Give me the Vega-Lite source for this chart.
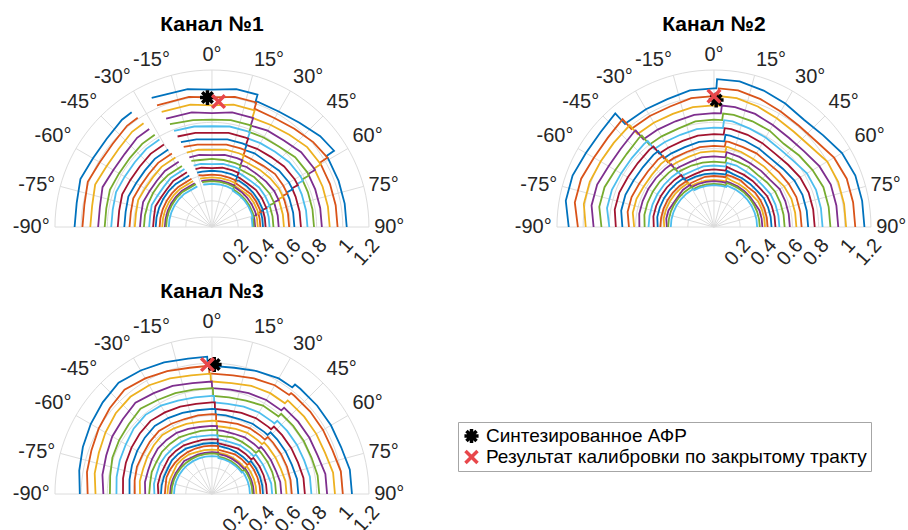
{"$schema":"https://vega.github.io/schema/vega-lite/v6.json","padding":0,"background":"white","bounds":"flush","columns":2,"spacing":{"row":4,"column":96},
"config":{"view":{"stroke":null},"font":"Liberation Sans"},
"datasets":{
"rings":[{"r":0.2},{"r":0.4},{"r":0.6},{"r":0.8},{"r":1.0},{"r":1.2}],
"spokes":[{"t":-90},{"t":-75},{"t":-60},{"t":-45},{"t":-30},{"t":-15},{"t":0},{"t":15},{"t":30},{"t":45},{"t":60},{"t":75},{"t":90}],
"alab":[{"t":-90,"l":"-90°"},{"t":-75,"l":"-75°"},{"t":-60,"l":"-60°"},{"t":-45,"l":"-45°"},{"t":-30,"l":"-30°"},{"t":-15,"l":"-15°"},{"t":0,"l":"0°"},{"t":15,"l":"15°"},{"t":30,"l":"30°"},{"t":45,"l":"45°"},{"t":60,"l":"60°"},{"t":75,"l":"75°"},{"t":90,"l":"90°"}],
"rlab":[{"r":0.2,"l":"0.2"},{"r":0.4,"l":"0.4"},{"r":0.6,"l":"0.6"},{"r":0.8,"l":"0.8"},{"r":1.0,"l":"1"},{"r":1.2,"l":"1.2"}],
"mk":[{"p":1,"m":"Синтезированное АФР","t":-2,"r":0.99},{"p":1,"m":"Результат калибровки по закрытому тракту","t":3,"r":0.96},{"p":2,"m":"Синтезированное АФР","t":1,"r":0.97},{"p":2,"m":"Результат калибровки по закрытому тракту","t":0,"r":1.0},{"p":3,"m":"Синтезированное АФР","t":1,"r":0.99},{"p":3,"m":"Результат калибровки по закрытому тракту","t":-2,"r":0.99}],
"p1a":[
{"k":0,"t":-90,"r":1.05},{"k":0,"t":-80,"r":1.05},{"k":0,"t":-70,"r":1.07},{"k":0,"t":-60,"r":1.05},{"k":0,"t":-50,"r":1.05},{"k":0,"t":-40,"r":1.07},{"k":0,"t":-35,"r":1.07},
{"k":1,"t":-90,"r":0.99},{"k":1,"t":-80,"r":0.99},{"k":1,"t":-70,"r":1.01},{"k":1,"t":-60,"r":0.99},{"k":1,"t":-50,"r":0.99},{"k":1,"t":-40,"r":1.01},{"k":1,"t":-34.2,"r":1.01},
{"k":2,"t":-90,"r":0.93},{"k":2,"t":-80,"r":0.93},{"k":2,"t":-70,"r":0.95},{"k":2,"t":-60,"r":0.93},{"k":2,"t":-50,"r":0.93},{"k":2,"t":-40,"r":0.95},{"k":2,"t":-33.4,"r":0.95},
{"k":3,"t":-90,"r":0.87},{"k":3,"t":-80,"r":0.87},{"k":3,"t":-70,"r":0.89},{"k":3,"t":-60,"r":0.87},{"k":3,"t":-50,"r":0.87},{"k":3,"t":-40,"r":0.89},{"k":3,"t":-32.6,"r":0.89},
{"k":4,"t":-90,"r":0.82},{"k":4,"t":-80,"r":0.82},{"k":4,"t":-70,"r":0.83},{"k":4,"t":-60,"r":0.82},{"k":4,"t":-50,"r":0.82},{"k":4,"t":-40,"r":0.83},{"k":4,"t":-31.8,"r":0.83},
{"k":5,"t":-90,"r":0.77},{"k":5,"t":-80,"r":0.77},{"k":5,"t":-70,"r":0.78},{"k":5,"t":-60,"r":0.77},{"k":5,"t":-50,"r":0.77},{"k":5,"t":-40,"r":0.78},{"k":5,"t":-31,"r":0.78},
{"k":6,"t":-90,"r":0.72},{"k":6,"t":-80,"r":0.72},{"k":6,"t":-70,"r":0.73},{"k":6,"t":-60,"r":0.72},{"k":6,"t":-50,"r":0.72},{"k":6,"t":-40,"r":0.73},{"k":6,"t":-30.2,"r":0.73},
{"k":7,"t":-90,"r":0.67},{"k":7,"t":-80,"r":0.67},{"k":7,"t":-70,"r":0.68},{"k":7,"t":-60,"r":0.67},{"k":7,"t":-50,"r":0.67},{"k":7,"t":-40,"r":0.68},{"k":7,"t":-29.4,"r":0.68},
{"k":8,"t":-90,"r":0.63},{"k":8,"t":-80,"r":0.63},{"k":8,"t":-70,"r":0.64},{"k":8,"t":-60,"r":0.63},{"k":8,"t":-50,"r":0.63},{"k":8,"t":-40,"r":0.64},{"k":8,"t":-28.6,"r":0.64},
{"k":9,"t":-90,"r":0.59},{"k":9,"t":-80,"r":0.59},{"k":9,"t":-70,"r":0.60},{"k":9,"t":-60,"r":0.59},{"k":9,"t":-50,"r":0.59},{"k":9,"t":-40,"r":0.60},{"k":9,"t":-27.8,"r":0.60},
{"k":10,"t":-90,"r":0.55},{"k":10,"t":-80,"r":0.55},{"k":10,"t":-70,"r":0.56},{"k":10,"t":-60,"r":0.55},{"k":10,"t":-50,"r":0.55},{"k":10,"t":-40,"r":0.56},{"k":10,"t":-27,"r":0.56},
{"k":11,"t":-90,"r":0.52},{"k":11,"t":-80,"r":0.52},{"k":11,"t":-70,"r":0.52},{"k":11,"t":-60,"r":0.52},{"k":11,"t":-50,"r":0.52},{"k":11,"t":-40,"r":0.52},{"k":11,"t":-26.2,"r":0.52},
{"k":12,"t":-90,"r":0.48},{"k":12,"t":-80,"r":0.48},{"k":12,"t":-70,"r":0.49},{"k":12,"t":-60,"r":0.48},{"k":12,"t":-50,"r":0.48},{"k":12,"t":-40,"r":0.49},{"k":12,"t":-25.4,"r":0.49},
{"k":13,"t":-90,"r":0.45},{"k":13,"t":-80,"r":0.45},{"k":13,"t":-70,"r":0.46},{"k":13,"t":-60,"r":0.45},{"k":13,"t":-50,"r":0.45},{"k":13,"t":-40,"r":0.46},{"k":13,"t":-24.6,"r":0.46},
{"k":14,"t":-90,"r":0.43},{"k":14,"t":-80,"r":0.43},{"k":14,"t":-70,"r":0.43},{"k":14,"t":-60,"r":0.43},{"k":14,"t":-50,"r":0.43},{"k":14,"t":-40,"r":0.43},{"k":14,"t":-23.8,"r":0.43},
{"k":15,"t":-90,"r":0.40},{"k":15,"t":-80,"r":0.40},{"k":15,"t":-70,"r":0.40},{"k":15,"t":-60,"r":0.40},{"k":15,"t":-50,"r":0.40},{"k":15,"t":-40,"r":0.40},{"k":15,"t":-23,"r":0.40},
{"k":16,"t":-90,"r":0.38},{"k":16,"t":-80,"r":0.38},{"k":16,"t":-70,"r":0.38},{"k":16,"t":-60,"r":0.38},{"k":16,"t":-50,"r":0.38},{"k":16,"t":-40,"r":0.38},{"k":16,"t":-22.2,"r":0.38},
{"k":17,"t":-90,"r":0.36},{"k":17,"t":-80,"r":0.36},{"k":17,"t":-70,"r":0.36},{"k":17,"t":-60,"r":0.36},{"k":17,"t":-50,"r":0.36},{"k":17,"t":-40,"r":0.36},{"k":17,"t":-21.4,"r":0.36},
{"k":18,"t":-90,"r":0.35},{"k":18,"t":-80,"r":0.35},{"k":18,"t":-70,"r":0.35},{"k":18,"t":-60,"r":0.35},{"k":18,"t":-50,"r":0.35},{"k":18,"t":-40,"r":0.35},{"k":18,"t":-20.6,"r":0.35},
{"k":19,"t":-90,"r":0.33},{"k":19,"t":-80,"r":0.33},{"k":19,"t":-70,"r":0.33},{"k":19,"t":-60,"r":0.33},{"k":19,"t":-50,"r":0.33},{"k":19,"t":-40,"r":0.33},{"k":19,"t":-19.8,"r":0.33}],
"p1b":[
{"k":0,"t":-25,"r":1.09},{"k":0,"t":-10,"r":1.07},{"k":0,"t":0,"r":1.05},{"k":0,"t":10,"r":1.07},{"k":0,"t":19,"r":1.07},{"k":0,"t":19.2,"r":1.01},{"k":0,"t":20,"r":1.02},{"k":0,"t":30,"r":1.02},{"k":0,"t":40,"r":1.04},{"k":0,"t":50,"r":1.08},{"k":0,"t":58,"r":1.10},{"k":0,"t":58.2,"r":1.03},{"k":0,"t":60,"r":1.03},{"k":0,"t":70,"r":1.03},{"k":0,"t":80,"r":1.03},{"k":0,"t":90,"r":1.03},
{"k":1,"t":-24.3,"r":1.02},{"k":1,"t":-10,"r":1.01},{"k":1,"t":0,"r":0.99},{"k":1,"t":10,"r":1.01},{"k":1,"t":19.6,"r":1.01},{"k":1,"t":19.8,"r":0.95},{"k":1,"t":20,"r":0.96},{"k":1,"t":30,"r":0.96},{"k":1,"t":40,"r":0.98},{"k":1,"t":50,"r":1.01},{"k":1,"t":59,"r":1.03},{"k":1,"t":59.2,"r":0.96},{"k":1,"t":60,"r":0.96},{"k":1,"t":70,"r":0.96},{"k":1,"t":80,"r":0.96},{"k":1,"t":90,"r":0.96},
{"k":2,"t":-23.6,"r":0.96},{"k":2,"t":-10,"r":0.95},{"k":2,"t":0,"r":0.93},{"k":2,"t":10,"r":0.95},{"k":2,"t":20.1,"r":0.95},{"k":2,"t":20.3,"r":0.89},{"k":2,"t":30,"r":0.90},{"k":2,"t":40,"r":0.92},{"k":2,"t":50,"r":0.95},{"k":2,"t":60,"r":0.96},{"k":2,"t":60.2,"r":0.90},{"k":2,"t":70,"r":0.90},{"k":2,"t":80,"r":0.90},{"k":2,"t":90,"r":0.90},
{"k":3,"t":-22.9,"r":0.90},{"k":3,"t":-10,"r":0.89},{"k":3,"t":0,"r":0.87},{"k":3,"t":10,"r":0.89},{"k":3,"t":20,"r":0.89},{"k":3,"t":20.7,"r":0.89},{"k":3,"t":20.9,"r":0.83},{"k":3,"t":30,"r":0.85},{"k":3,"t":40,"r":0.86},{"k":3,"t":50,"r":0.89},{"k":3,"t":60,"r":0.90},{"k":3,"t":61,"r":0.90},{"k":3,"t":61.2,"r":0.84},{"k":3,"t":70,"r":0.84},{"k":3,"t":80,"r":0.84},{"k":3,"t":90,"r":0.84},
{"k":4,"t":-22.2,"r":0.85},{"k":4,"t":-10,"r":0.83},{"k":4,"t":0,"r":0.82},{"k":4,"t":10,"r":0.83},{"k":4,"t":20,"r":0.83},{"k":4,"t":21.2,"r":0.83},{"k":4,"t":21.4,"r":0.78},{"k":4,"t":30,"r":0.79},{"k":4,"t":40,"r":0.80},{"k":4,"t":50,"r":0.83},{"k":4,"t":60,"r":0.84},{"k":4,"t":62,"r":0.84},{"k":4,"t":62.2,"r":0.78},{"k":4,"t":70,"r":0.78},{"k":4,"t":80,"r":0.78},{"k":4,"t":90,"r":0.78},
{"k":5,"t":-21.5,"r":0.79},{"k":5,"t":-10,"r":0.78},{"k":5,"t":0,"r":0.77},{"k":5,"t":10,"r":0.78},{"k":5,"t":20,"r":0.78},{"k":5,"t":21.8,"r":0.78},{"k":5,"t":22,"r":0.73},{"k":5,"t":30,"r":0.74},{"k":5,"t":40,"r":0.75},{"k":5,"t":50,"r":0.77},{"k":5,"t":60,"r":0.78},{"k":5,"t":63,"r":0.78},{"k":5,"t":63.2,"r":0.73},{"k":5,"t":70,"r":0.73},{"k":5,"t":80,"r":0.73},{"k":5,"t":90,"r":0.73},
{"k":6,"t":-20.8,"r":0.74},{"k":6,"t":-10,"r":0.73},{"k":6,"t":0,"r":0.72},{"k":6,"t":10,"r":0.73},{"k":6,"t":20,"r":0.73},{"k":6,"t":22.3,"r":0.73},{"k":6,"t":22.5,"r":0.68},{"k":6,"t":30,"r":0.69},{"k":6,"t":40,"r":0.70},{"k":6,"t":50,"r":0.72},{"k":6,"t":60,"r":0.73},{"k":6,"t":64,"r":0.73},{"k":6,"t":64.2,"r":0.68},{"k":6,"t":70,"r":0.68},{"k":6,"t":80,"r":0.68},{"k":6,"t":90,"r":0.68},
{"k":7,"t":-20.1,"r":0.69},{"k":7,"t":-10,"r":0.68},{"k":7,"t":0,"r":0.67},{"k":7,"t":10,"r":0.68},{"k":7,"t":20,"r":0.68},{"k":7,"t":22.9,"r":0.68},{"k":7,"t":23.1,"r":0.64},{"k":7,"t":30,"r":0.65},{"k":7,"t":40,"r":0.65},{"k":7,"t":50,"r":0.67},{"k":7,"t":60,"r":0.68},{"k":7,"t":65,"r":0.68},{"k":7,"t":65.2,"r":0.63},{"k":7,"t":70,"r":0.63},{"k":7,"t":80,"r":0.63},{"k":7,"t":90,"r":0.63},
{"k":8,"t":-19.4,"r":0.65},{"k":8,"t":-10,"r":0.64},{"k":8,"t":0,"r":0.63},{"k":8,"t":10,"r":0.64},{"k":8,"t":20,"r":0.64},{"k":8,"t":23.4,"r":0.64},{"k":8,"t":23.6,"r":0.60},{"k":8,"t":30,"r":0.60},{"k":8,"t":40,"r":0.61},{"k":8,"t":50,"r":0.63},{"k":8,"t":60,"r":0.63},{"k":8,"t":66,"r":0.63},{"k":8,"t":66.2,"r":0.59},{"k":8,"t":70,"r":0.59},{"k":8,"t":80,"r":0.59},{"k":8,"t":90,"r":0.59},
{"k":9,"t":-18.7,"r":0.60},{"k":9,"t":-10,"r":0.60},{"k":9,"t":0,"r":0.59},{"k":9,"t":10,"r":0.60},{"k":9,"t":20,"r":0.60},{"k":9,"t":24,"r":0.60},{"k":9,"t":24.2,"r":0.56},{"k":9,"t":30,"r":0.56},{"k":9,"t":40,"r":0.57},{"k":9,"t":50,"r":0.58},{"k":9,"t":60,"r":0.59},{"k":9,"t":67,"r":0.59},{"k":9,"t":67.2,"r":0.55},{"k":9,"t":70,"r":0.55},{"k":9,"t":80,"r":0.55},{"k":9,"t":90,"r":0.55},
{"k":10,"t":-18,"r":0.56},{"k":10,"t":-10,"r":0.56},{"k":10,"t":0,"r":0.55},{"k":10,"t":10,"r":0.56},{"k":10,"t":20,"r":0.56},{"k":10,"t":24.5,"r":0.56},{"k":10,"t":24.7,"r":0.52},{"k":10,"t":30,"r":0.53},{"k":10,"t":40,"r":0.53},{"k":10,"t":50,"r":0.54},{"k":10,"t":60,"r":0.55},{"k":10,"t":68,"r":0.55},{"k":10,"t":68.2,"r":0.51},{"k":10,"t":70,"r":0.51},{"k":10,"t":80,"r":0.51},{"k":10,"t":90,"r":0.51},
{"k":11,"t":-17.3,"r":0.53},{"k":11,"t":-10,"r":0.52},{"k":11,"t":0,"r":0.52},{"k":11,"t":10,"r":0.52},{"k":11,"t":20,"r":0.52},{"k":11,"t":25.1,"r":0.52},{"k":11,"t":25.3,"r":0.49},{"k":11,"t":30,"r":0.49},{"k":11,"t":40,"r":0.50},{"k":11,"t":50,"r":0.50},{"k":11,"t":60,"r":0.51},{"k":11,"t":69,"r":0.51},{"k":11,"t":69.2,"r":0.47},{"k":11,"t":70,"r":0.47},{"k":11,"t":80,"r":0.47},{"k":11,"t":90,"r":0.47},
{"k":12,"t":-16.6,"r":0.49},{"k":12,"t":-10,"r":0.49},{"k":12,"t":0,"r":0.48},{"k":12,"t":10,"r":0.49},{"k":12,"t":20,"r":0.49},{"k":12,"t":25.6,"r":0.49},{"k":12,"t":25.8,"r":0.46},{"k":12,"t":30,"r":0.46},{"k":12,"t":40,"r":0.46},{"k":12,"t":50,"r":0.47},{"k":12,"t":60,"r":0.47},{"k":12,"t":70,"r":0.47},{"k":12,"t":70.2,"r":0.44},{"k":12,"t":80,"r":0.44},{"k":12,"t":90,"r":0.44},
{"k":13,"t":-15.9,"r":0.46},{"k":13,"t":-10,"r":0.46},{"k":13,"t":0,"r":0.45},{"k":13,"t":10,"r":0.46},{"k":13,"t":20,"r":0.46},{"k":13,"t":26.2,"r":0.46},{"k":13,"t":26.4,"r":0.43},{"k":13,"t":30,"r":0.43},{"k":13,"t":40,"r":0.43},{"k":13,"t":50,"r":0.44},{"k":13,"t":60,"r":0.44},{"k":13,"t":70,"r":0.44},{"k":13,"t":71,"r":0.44},{"k":13,"t":71.2,"r":0.41},{"k":13,"t":80,"r":0.41},{"k":13,"t":90,"r":0.41},
{"k":14,"t":-15.2,"r":0.43},{"k":14,"t":-10,"r":0.43},{"k":14,"t":0,"r":0.43},{"k":14,"t":10,"r":0.43},{"k":14,"t":20,"r":0.43},{"k":14,"t":26.7,"r":0.43},{"k":14,"t":26.9,"r":0.40},{"k":14,"t":30,"r":0.41},{"k":14,"t":40,"r":0.41},{"k":14,"t":50,"r":0.41},{"k":14,"t":60,"r":0.41},{"k":14,"t":70,"r":0.41},{"k":14,"t":72,"r":0.41},{"k":14,"t":72.2,"r":0.39},{"k":14,"t":80,"r":0.39},{"k":14,"t":90,"r":0.39},
{"k":15,"t":-14.5,"r":0.41},{"k":15,"t":-10,"r":0.40},{"k":15,"t":0,"r":0.40},{"k":15,"t":10,"r":0.40},{"k":15,"t":20,"r":0.40},{"k":15,"t":27.3,"r":0.40},{"k":15,"t":27.5,"r":0.38},{"k":15,"t":30,"r":0.38},{"k":15,"t":40,"r":0.38},{"k":15,"t":50,"r":0.39},{"k":15,"t":60,"r":0.39},{"k":15,"t":70,"r":0.39},{"k":15,"t":73,"r":0.39},{"k":15,"t":73.2,"r":0.37},{"k":15,"t":80,"r":0.37},{"k":15,"t":90,"r":0.37},
{"k":16,"t":-13.8,"r":0.38},{"k":16,"t":-10,"r":0.38},{"k":16,"t":0,"r":0.38},{"k":16,"t":10,"r":0.38},{"k":16,"t":20,"r":0.38},{"k":16,"t":27.8,"r":0.38},{"k":16,"t":28,"r":0.36},{"k":16,"t":30,"r":0.36},{"k":16,"t":40,"r":0.36},{"k":16,"t":50,"r":0.37},{"k":16,"t":60,"r":0.37},{"k":16,"t":70,"r":0.37},{"k":16,"t":74,"r":0.37},{"k":16,"t":74.2,"r":0.35},{"k":16,"t":80,"r":0.35},{"k":16,"t":90,"r":0.35},
{"k":17,"t":-13.1,"r":0.36},{"k":17,"t":-10,"r":0.36},{"k":17,"t":0,"r":0.36},{"k":17,"t":10,"r":0.36},{"k":17,"t":20,"r":0.36},{"k":17,"t":28.4,"r":0.36},{"k":17,"t":28.6,"r":0.35},{"k":17,"t":30,"r":0.35},{"k":17,"t":40,"r":0.35},{"k":17,"t":50,"r":0.35},{"k":17,"t":60,"r":0.35},{"k":17,"t":70,"r":0.35},{"k":17,"t":75,"r":0.35},{"k":17,"t":75.2,"r":0.33},{"k":17,"t":80,"r":0.33},{"k":17,"t":90,"r":0.33},
{"k":18,"t":-12.4,"r":0.35},{"k":18,"t":-10,"r":0.35},{"k":18,"t":0,"r":0.35},{"k":18,"t":10,"r":0.35},{"k":18,"t":20,"r":0.35},{"k":18,"t":28.9,"r":0.35},{"k":18,"t":29.1,"r":0.33},{"k":18,"t":30,"r":0.33},{"k":18,"t":40,"r":0.33},{"k":18,"t":50,"r":0.33},{"k":18,"t":60,"r":0.33},{"k":18,"t":70,"r":0.33},{"k":18,"t":76,"r":0.33},{"k":18,"t":76.2,"r":0.32},{"k":18,"t":80,"r":0.32},{"k":18,"t":90,"r":0.32},
{"k":19,"t":-11.7,"r":0.33},{"k":19,"t":-10,"r":0.33},{"k":19,"t":0,"r":0.33},{"k":19,"t":10,"r":0.33},{"k":19,"t":20,"r":0.33},{"k":19,"t":29.5,"r":0.33},{"k":19,"t":29.7,"r":0.32},{"k":19,"t":30,"r":0.32},{"k":19,"t":40,"r":0.32},{"k":19,"t":50,"r":0.32},{"k":19,"t":60,"r":0.32},{"k":19,"t":70,"r":0.32},{"k":19,"t":77,"r":0.32},{"k":19,"t":77.2,"r":0.31},{"k":19,"t":80,"r":0.31},{"k":19,"t":90,"r":0.31}],
"p2":[
{"k":0,"t":-90,"r":1.11},{"k":0,"t":-80,"r":1.15},{"k":0,"t":-70,"r":1.15},{"k":0,"t":-60,"r":1.13},{"k":0,"t":-50,"r":1.13},{"k":0,"t":-41,"r":1.15},{"k":0,"t":-40.8,"r":1.04},{"k":0,"t":-40,"r":1.04},{"k":0,"t":-30,"r":1.04},{"k":0,"t":-20,"r":1.04},{"k":0,"t":-10,"r":1.06},{"k":0,"t":0,"r":1.06},{"k":0,"t":1,"r":1.06},{"k":0,"t":1.2,"r":1.13},{"k":0,"t":10,"r":1.13},{"k":0,"t":20,"r":1.11},{"k":0,"t":30,"r":1.09},{"k":0,"t":40,"r":1.07},{"k":0,"t":50,"r":1.09},{"k":0,"t":60,"r":1.13},{"k":0,"t":70,"r":1.15},{"k":0,"t":80,"r":1.15},{"k":0,"t":90,"r":1.15},
{"k":1,"t":-90,"r":1.04},{"k":1,"t":-80,"r":1.08},{"k":1,"t":-70,"r":1.08},{"k":1,"t":-60,"r":1.06},{"k":1,"t":-50,"r":1.06},{"k":1,"t":-40.3,"r":1.08},{"k":1,"t":-40.1,"r":0.98},{"k":1,"t":-40,"r":0.98},{"k":1,"t":-30,"r":0.98},{"k":1,"t":-20,"r":0.98},{"k":1,"t":-10,"r":1.0},{"k":1,"t":0,"r":1.0},{"k":1,"t":1.8,"r":1.0},{"k":1,"t":2,"r":1.06},{"k":1,"t":10,"r":1.06},{"k":1,"t":20,"r":1.04},{"k":1,"t":30,"r":1.02},{"k":1,"t":40,"r":1.01},{"k":1,"t":50,"r":1.02},{"k":1,"t":60,"r":1.06},{"k":1,"t":70,"r":1.08},{"k":1,"t":80,"r":1.08},{"k":1,"t":90,"r":1.08},
{"k":2,"t":-90,"r":0.98},{"k":2,"t":-80,"r":1.01},{"k":2,"t":-70,"r":1.01},{"k":2,"t":-60,"r":1.0},{"k":2,"t":-50,"r":1.0},{"k":2,"t":-40,"r":1.01},{"k":2,"t":-39.6,"r":1.01},{"k":2,"t":-39.4,"r":0.92},{"k":2,"t":-30,"r":0.92},{"k":2,"t":-20,"r":0.92},{"k":2,"t":-10,"r":0.93},{"k":2,"t":0,"r":0.93},{"k":2,"t":2.7,"r":0.93},{"k":2,"t":2.9,"r":1.0},{"k":2,"t":10,"r":1.0},{"k":2,"t":20,"r":0.98},{"k":2,"t":30,"r":0.96},{"k":2,"t":40,"r":0.95},{"k":2,"t":50,"r":0.96},{"k":2,"t":60,"r":1.0},{"k":2,"t":70,"r":1.01},{"k":2,"t":80,"r":1.01},{"k":2,"t":90,"r":1.01},
{"k":3,"t":-90,"r":0.92},{"k":3,"t":-80,"r":0.95},{"k":3,"t":-70,"r":0.95},{"k":3,"t":-60,"r":0.93},{"k":3,"t":-50,"r":0.93},{"k":3,"t":-40,"r":0.95},{"k":3,"t":-39,"r":0.95},{"k":3,"t":-38.8,"r":0.86},{"k":3,"t":-30,"r":0.86},{"k":3,"t":-20,"r":0.86},{"k":3,"t":-10,"r":0.87},{"k":3,"t":0,"r":0.87},{"k":3,"t":3.5,"r":0.87},{"k":3,"t":3.7,"r":0.93},{"k":3,"t":10,"r":0.93},{"k":3,"t":20,"r":0.92},{"k":3,"t":30,"r":0.90},{"k":3,"t":40,"r":0.89},{"k":3,"t":50,"r":0.90},{"k":3,"t":60,"r":0.93},{"k":3,"t":70,"r":0.95},{"k":3,"t":80,"r":0.95},{"k":3,"t":90,"r":0.95},
{"k":4,"t":-90,"r":0.86},{"k":4,"t":-80,"r":0.89},{"k":4,"t":-70,"r":0.89},{"k":4,"t":-60,"r":0.87},{"k":4,"t":-50,"r":0.87},{"k":4,"t":-40,"r":0.89},{"k":4,"t":-38.3,"r":0.89},{"k":4,"t":-38.1,"r":0.80},{"k":4,"t":-30,"r":0.80},{"k":4,"t":-20,"r":0.80},{"k":4,"t":-10,"r":0.82},{"k":4,"t":0,"r":0.82},{"k":4,"t":4.4,"r":0.82},{"k":4,"t":4.6,"r":0.87},{"k":4,"t":10,"r":0.87},{"k":4,"t":20,"r":0.86},{"k":4,"t":30,"r":0.85},{"k":4,"t":40,"r":0.83},{"k":4,"t":50,"r":0.85},{"k":4,"t":60,"r":0.87},{"k":4,"t":70,"r":0.89},{"k":4,"t":80,"r":0.89},{"k":4,"t":90,"r":0.89},
{"k":5,"t":-90,"r":0.80},{"k":5,"t":-80,"r":0.83},{"k":5,"t":-70,"r":0.83},{"k":5,"t":-60,"r":0.82},{"k":5,"t":-50,"r":0.82},{"k":5,"t":-40,"r":0.83},{"k":5,"t":-37.6,"r":0.83},{"k":5,"t":-37.4,"r":0.75},{"k":5,"t":-30,"r":0.75},{"k":5,"t":-20,"r":0.75},{"k":5,"t":-10,"r":0.76},{"k":5,"t":0,"r":0.76},{"k":5,"t":5.2,"r":0.76},{"k":5,"t":5.4,"r":0.82},{"k":5,"t":10,"r":0.82},{"k":5,"t":20,"r":0.80},{"k":5,"t":30,"r":0.79},{"k":5,"t":40,"r":0.78},{"k":5,"t":50,"r":0.79},{"k":5,"t":60,"r":0.82},{"k":5,"t":70,"r":0.83},{"k":5,"t":80,"r":0.83},{"k":5,"t":90,"r":0.83},
{"k":6,"t":-90,"r":0.75},{"k":6,"t":-80,"r":0.77},{"k":6,"t":-70,"r":0.77},{"k":6,"t":-60,"r":0.76},{"k":6,"t":-50,"r":0.76},{"k":6,"t":-40,"r":0.77},{"k":6,"t":-36.9,"r":0.77},{"k":6,"t":-36.7,"r":0.70},{"k":6,"t":-30,"r":0.70},{"k":6,"t":-20,"r":0.70},{"k":6,"t":-10,"r":0.71},{"k":6,"t":0,"r":0.71},{"k":6,"t":6,"r":0.71},{"k":6,"t":6.2,"r":0.76},{"k":6,"t":10,"r":0.76},{"k":6,"t":20,"r":0.75},{"k":6,"t":30,"r":0.74},{"k":6,"t":40,"r":0.73},{"k":6,"t":50,"r":0.74},{"k":6,"t":60,"r":0.76},{"k":6,"t":70,"r":0.77},{"k":6,"t":80,"r":0.77},{"k":6,"t":90,"r":0.77},
{"k":7,"t":-90,"r":0.70},{"k":7,"t":-80,"r":0.72},{"k":7,"t":-70,"r":0.72},{"k":7,"t":-60,"r":0.71},{"k":7,"t":-50,"r":0.71},{"k":7,"t":-40,"r":0.72},{"k":7,"t":-36.2,"r":0.72},{"k":7,"t":-36,"r":0.65},{"k":7,"t":-30,"r":0.65},{"k":7,"t":-20,"r":0.65},{"k":7,"t":-10,"r":0.66},{"k":7,"t":0,"r":0.66},{"k":7,"t":6.9,"r":0.66},{"k":7,"t":7.1,"r":0.71},{"k":7,"t":10,"r":0.71},{"k":7,"t":20,"r":0.70},{"k":7,"t":30,"r":0.69},{"k":7,"t":40,"r":0.68},{"k":7,"t":50,"r":0.69},{"k":7,"t":60,"r":0.71},{"k":7,"t":70,"r":0.72},{"k":7,"t":80,"r":0.72},{"k":7,"t":90,"r":0.72},
{"k":8,"t":-90,"r":0.65},{"k":8,"t":-80,"r":0.67},{"k":8,"t":-70,"r":0.67},{"k":8,"t":-60,"r":0.66},{"k":8,"t":-50,"r":0.66},{"k":8,"t":-40,"r":0.67},{"k":8,"t":-35.6,"r":0.67},{"k":8,"t":-35.4,"r":0.61},{"k":8,"t":-30,"r":0.61},{"k":8,"t":-20,"r":0.61},{"k":8,"t":-10,"r":0.62},{"k":8,"t":0,"r":0.62},{"k":8,"t":7.7,"r":0.62},{"k":8,"t":7.9,"r":0.66},{"k":8,"t":10,"r":0.66},{"k":8,"t":20,"r":0.65},{"k":8,"t":30,"r":0.65},{"k":8,"t":40,"r":0.64},{"k":8,"t":50,"r":0.65},{"k":8,"t":60,"r":0.66},{"k":8,"t":70,"r":0.67},{"k":8,"t":80,"r":0.67},{"k":8,"t":90,"r":0.67},
{"k":9,"t":-90,"r":0.61},{"k":9,"t":-80,"r":0.63},{"k":9,"t":-70,"r":0.63},{"k":9,"t":-60,"r":0.62},{"k":9,"t":-50,"r":0.62},{"k":9,"t":-40,"r":0.63},{"k":9,"t":-34.9,"r":0.63},{"k":9,"t":-34.7,"r":0.57},{"k":9,"t":-30,"r":0.57},{"k":9,"t":-20,"r":0.57},{"k":9,"t":-10,"r":0.58},{"k":9,"t":0,"r":0.58},{"k":9,"t":8.6,"r":0.58},{"k":9,"t":8.8,"r":0.62},{"k":9,"t":10,"r":0.62},{"k":9,"t":20,"r":0.61},{"k":9,"t":30,"r":0.60},{"k":9,"t":40,"r":0.60},{"k":9,"t":50,"r":0.60},{"k":9,"t":60,"r":0.62},{"k":9,"t":70,"r":0.63},{"k":9,"t":80,"r":0.63},{"k":9,"t":90,"r":0.63},
{"k":10,"t":-90,"r":0.57},{"k":10,"t":-80,"r":0.58},{"k":10,"t":-70,"r":0.58},{"k":10,"t":-60,"r":0.58},{"k":10,"t":-50,"r":0.58},{"k":10,"t":-40,"r":0.58},{"k":10,"t":-34.2,"r":0.58},{"k":10,"t":-34,"r":0.53},{"k":10,"t":-30,"r":0.53},{"k":10,"t":-20,"r":0.53},{"k":10,"t":-10,"r":0.54},{"k":10,"t":0,"r":0.54},{"k":10,"t":9.4,"r":0.54},{"k":10,"t":9.6,"r":0.58},{"k":10,"t":10,"r":0.58},{"k":10,"t":20,"r":0.57},{"k":10,"t":30,"r":0.56},{"k":10,"t":40,"r":0.56},{"k":10,"t":50,"r":0.56},{"k":10,"t":60,"r":0.58},{"k":10,"t":70,"r":0.58},{"k":10,"t":80,"r":0.58},{"k":10,"t":90,"r":0.58},
{"k":11,"t":-90,"r":0.53},{"k":11,"t":-80,"r":0.54},{"k":11,"t":-70,"r":0.54},{"k":11,"t":-60,"r":0.54},{"k":11,"t":-50,"r":0.54},{"k":11,"t":-40,"r":0.54},{"k":11,"t":-33.5,"r":0.54},{"k":11,"t":-33.3,"r":0.50},{"k":11,"t":-30,"r":0.50},{"k":11,"t":-20,"r":0.50},{"k":11,"t":-10,"r":0.50},{"k":11,"t":0,"r":0.50},{"k":11,"t":10,"r":0.50},{"k":11,"t":10.2,"r":0.50},{"k":11,"t":10.4,"r":0.54},{"k":11,"t":20,"r":0.53},{"k":11,"t":30,"r":0.53},{"k":11,"t":40,"r":0.52},{"k":11,"t":50,"r":0.53},{"k":11,"t":60,"r":0.54},{"k":11,"t":70,"r":0.54},{"k":11,"t":80,"r":0.54},{"k":11,"t":90,"r":0.54},
{"k":12,"t":-90,"r":0.50},{"k":12,"t":-80,"r":0.50},{"k":12,"t":-70,"r":0.50},{"k":12,"t":-60,"r":0.50},{"k":12,"t":-50,"r":0.50},{"k":12,"t":-40,"r":0.50},{"k":12,"t":-32.8,"r":0.50},{"k":12,"t":-32.6,"r":0.46},{"k":12,"t":-30,"r":0.46},{"k":12,"t":-20,"r":0.46},{"k":12,"t":-10,"r":0.47},{"k":12,"t":0,"r":0.47},{"k":12,"t":10,"r":0.47},{"k":12,"t":11.1,"r":0.47},{"k":12,"t":11.3,"r":0.50},{"k":12,"t":20,"r":0.50},{"k":12,"t":30,"r":0.49},{"k":12,"t":40,"r":0.49},{"k":12,"t":50,"r":0.49},{"k":12,"t":60,"r":0.50},{"k":12,"t":70,"r":0.50},{"k":12,"t":80,"r":0.50},{"k":12,"t":90,"r":0.50},
{"k":13,"t":-90,"r":0.46},{"k":13,"t":-80,"r":0.47},{"k":13,"t":-70,"r":0.47},{"k":13,"t":-60,"r":0.47},{"k":13,"t":-50,"r":0.47},{"k":13,"t":-40,"r":0.47},{"k":13,"t":-32.2,"r":0.47},{"k":13,"t":-32,"r":0.43},{"k":13,"t":-30,"r":0.43},{"k":13,"t":-20,"r":0.43},{"k":13,"t":-10,"r":0.44},{"k":13,"t":0,"r":0.44},{"k":13,"t":10,"r":0.44},{"k":13,"t":11.9,"r":0.44},{"k":13,"t":12.1,"r":0.47},{"k":13,"t":20,"r":0.46},{"k":13,"t":30,"r":0.46},{"k":13,"t":40,"r":0.46},{"k":13,"t":50,"r":0.46},{"k":13,"t":60,"r":0.47},{"k":13,"t":70,"r":0.47},{"k":13,"t":80,"r":0.47},{"k":13,"t":90,"r":0.47},
{"k":14,"t":-90,"r":0.43},{"k":14,"t":-80,"r":0.44},{"k":14,"t":-70,"r":0.44},{"k":14,"t":-60,"r":0.44},{"k":14,"t":-50,"r":0.44},{"k":14,"t":-40,"r":0.44},{"k":14,"t":-31.5,"r":0.44},{"k":14,"t":-31.3,"r":0.41},{"k":14,"t":-30,"r":0.41},{"k":14,"t":-20,"r":0.41},{"k":14,"t":-10,"r":0.41},{"k":14,"t":0,"r":0.41},{"k":14,"t":10,"r":0.41},{"k":14,"t":12.8,"r":0.41},{"k":14,"t":13,"r":0.44},{"k":14,"t":20,"r":0.43},{"k":14,"t":30,"r":0.43},{"k":14,"t":40,"r":0.43},{"k":14,"t":50,"r":0.43},{"k":14,"t":60,"r":0.44},{"k":14,"t":70,"r":0.44},{"k":14,"t":80,"r":0.44},{"k":14,"t":90,"r":0.44},
{"k":15,"t":-90,"r":0.41},{"k":15,"t":-80,"r":0.41},{"k":15,"t":-70,"r":0.41},{"k":15,"t":-60,"r":0.41},{"k":15,"t":-50,"r":0.41},{"k":15,"t":-40,"r":0.41},{"k":15,"t":-30.8,"r":0.41},{"k":15,"t":-30.6,"r":0.38},{"k":15,"t":-30,"r":0.38},{"k":15,"t":-20,"r":0.38},{"k":15,"t":-10,"r":0.39},{"k":15,"t":0,"r":0.39},{"k":15,"t":10,"r":0.39},{"k":15,"t":13.6,"r":0.39},{"k":15,"t":13.8,"r":0.41},{"k":15,"t":20,"r":0.41},{"k":15,"t":30,"r":0.41},{"k":15,"t":40,"r":0.40},{"k":15,"t":50,"r":0.41},{"k":15,"t":60,"r":0.41},{"k":15,"t":70,"r":0.41},{"k":15,"t":80,"r":0.41},{"k":15,"t":90,"r":0.41},
{"k":16,"t":-90,"r":0.38},{"k":16,"t":-80,"r":0.39},{"k":16,"t":-70,"r":0.39},{"k":16,"t":-60,"r":0.39},{"k":16,"t":-50,"r":0.39},{"k":16,"t":-40,"r":0.39},{"k":16,"t":-30.1,"r":0.39},{"k":16,"t":-29.9,"r":0.36},{"k":16,"t":-20,"r":0.36},{"k":16,"t":-10,"r":0.36},{"k":16,"t":0,"r":0.36},{"k":16,"t":10,"r":0.36},{"k":16,"t":14.4,"r":0.36},{"k":16,"t":14.6,"r":0.39},{"k":16,"t":20,"r":0.38},{"k":16,"t":30,"r":0.38},{"k":16,"t":40,"r":0.38},{"k":16,"t":50,"r":0.38},{"k":16,"t":60,"r":0.39},{"k":16,"t":70,"r":0.39},{"k":16,"t":80,"r":0.39},{"k":16,"t":90,"r":0.39},
{"k":17,"t":-90,"r":0.36},{"k":17,"t":-80,"r":0.37},{"k":17,"t":-70,"r":0.37},{"k":17,"t":-60,"r":0.36},{"k":17,"t":-50,"r":0.36},{"k":17,"t":-40,"r":0.37},{"k":17,"t":-30,"r":0.37},{"k":17,"t":-29.4,"r":0.37},{"k":17,"t":-29.2,"r":0.35},{"k":17,"t":-20,"r":0.35},{"k":17,"t":-10,"r":0.35},{"k":17,"t":0,"r":0.35},{"k":17,"t":10,"r":0.35},{"k":17,"t":15.3,"r":0.35},{"k":17,"t":15.5,"r":0.36},{"k":17,"t":20,"r":0.36},{"k":17,"t":30,"r":0.36},{"k":17,"t":40,"r":0.36},{"k":17,"t":50,"r":0.36},{"k":17,"t":60,"r":0.36},{"k":17,"t":70,"r":0.37},{"k":17,"t":80,"r":0.37},{"k":17,"t":90,"r":0.37},
{"k":18,"t":-90,"r":0.35},{"k":18,"t":-80,"r":0.35},{"k":18,"t":-70,"r":0.35},{"k":18,"t":-60,"r":0.35},{"k":18,"t":-50,"r":0.35},{"k":18,"t":-40,"r":0.35},{"k":18,"t":-30,"r":0.35},{"k":18,"t":-28.8,"r":0.35},{"k":18,"t":-28.6,"r":0.33},{"k":18,"t":-20,"r":0.33},{"k":18,"t":-10,"r":0.33},{"k":18,"t":0,"r":0.33},{"k":18,"t":10,"r":0.33},{"k":18,"t":16.1,"r":0.33},{"k":18,"t":16.3,"r":0.35},{"k":18,"t":20,"r":0.35},{"k":18,"t":30,"r":0.35},{"k":18,"t":40,"r":0.35},{"k":18,"t":50,"r":0.35},{"k":18,"t":60,"r":0.35},{"k":18,"t":70,"r":0.35},{"k":18,"t":80,"r":0.35},{"k":18,"t":90,"r":0.35},
{"k":19,"t":-90,"r":0.33},{"k":19,"t":-80,"r":0.33},{"k":19,"t":-70,"r":0.33},{"k":19,"t":-60,"r":0.33},{"k":19,"t":-50,"r":0.33},{"k":19,"t":-40,"r":0.33},{"k":19,"t":-30,"r":0.33},{"k":19,"t":-28.1,"r":0.33},{"k":19,"t":-27.9,"r":0.32},{"k":19,"t":-20,"r":0.32},{"k":19,"t":-10,"r":0.32},{"k":19,"t":0,"r":0.32},{"k":19,"t":10,"r":0.32},{"k":19,"t":17,"r":0.32},{"k":19,"t":17.2,"r":0.33},{"k":19,"t":20,"r":0.33},{"k":19,"t":30,"r":0.33},{"k":19,"t":40,"r":0.33},{"k":19,"t":50,"r":0.33},{"k":19,"t":60,"r":0.33},{"k":19,"t":70,"r":0.33},{"k":19,"t":80,"r":0.33},{"k":19,"t":90,"r":0.33}],
"p3":[
{"k":0,"t":-90,"r":1.01},{"k":0,"t":-80,"r":1.03},{"k":0,"t":-70,"r":1.05},{"k":0,"t":-60,"r":1.07},{"k":0,"t":-50,"r":1.09},{"k":0,"t":-40,"r":1.11},{"k":0,"t":-30,"r":1.09},{"k":0,"t":-20,"r":1.07},{"k":0,"t":-10,"r":1.05},{"k":0,"t":-2,"r":1.05},{"k":0,"t":-1.8,"r":0.98},{"k":0,"t":0,"r":0.98},{"k":0,"t":10,"r":0.98},{"k":0,"t":20,"r":1.0},{"k":0,"t":30,"r":1.02},{"k":0,"t":37,"r":1.02},{"k":0,"t":37.2,"r":1.05},{"k":0,"t":40,"r":1.05},{"k":0,"t":50,"r":1.05},{"k":0,"t":60,"r":1.05},{"k":0,"t":70,"r":1.05},{"k":0,"t":80,"r":1.07},{"k":0,"t":90,"r":1.07},
{"k":1,"t":-90,"r":0.95},{"k":1,"t":-80,"r":0.97},{"k":1,"t":-70,"r":0.98},{"k":1,"t":-60,"r":1.0},{"k":1,"t":-50,"r":1.02},{"k":1,"t":-40,"r":1.04},{"k":1,"t":-30,"r":1.02},{"k":1,"t":-20,"r":1.0},{"k":1,"t":-10,"r":0.98},{"k":1,"t":-1.4,"r":0.98},{"k":1,"t":-1.2,"r":0.92},{"k":1,"t":0,"r":0.92},{"k":1,"t":10,"r":0.92},{"k":1,"t":20,"r":0.94},{"k":1,"t":30,"r":0.96},{"k":1,"t":37.9,"r":0.96},{"k":1,"t":38.1,"r":0.98},{"k":1,"t":40,"r":0.98},{"k":1,"t":50,"r":0.98},{"k":1,"t":60,"r":0.98},{"k":1,"t":70,"r":0.98},{"k":1,"t":80,"r":1.0},{"k":1,"t":90,"r":1.0},
{"k":2,"t":-90,"r":0.89},{"k":2,"t":-80,"r":0.91},{"k":2,"t":-70,"r":0.92},{"k":2,"t":-60,"r":0.94},{"k":2,"t":-50,"r":0.96},{"k":2,"t":-40,"r":0.97},{"k":2,"t":-30,"r":0.96},{"k":2,"t":-20,"r":0.94},{"k":2,"t":-10,"r":0.92},{"k":2,"t":-0.7,"r":0.92},{"k":2,"t":-0.5,"r":0.86},{"k":2,"t":0,"r":0.86},{"k":2,"t":10,"r":0.86},{"k":2,"t":20,"r":0.88},{"k":2,"t":30,"r":0.89},{"k":2,"t":38.8,"r":0.89},{"k":2,"t":39,"r":0.92},{"k":2,"t":40,"r":0.92},{"k":2,"t":50,"r":0.92},{"k":2,"t":60,"r":0.92},{"k":2,"t":70,"r":0.92},{"k":2,"t":80,"r":0.94},{"k":2,"t":90,"r":0.94},
{"k":3,"t":-90,"r":0.83},{"k":3,"t":-80,"r":0.85},{"k":3,"t":-70,"r":0.86},{"k":3,"t":-60,"r":0.88},{"k":3,"t":-50,"r":0.89},{"k":3,"t":-40,"r":0.91},{"k":3,"t":-30,"r":0.89},{"k":3,"t":-20,"r":0.88},{"k":3,"t":-10,"r":0.86},{"k":3,"t":-0.1,"r":0.86},{"k":3,"t":0.1,"r":0.81},{"k":3,"t":10,"r":0.81},{"k":3,"t":20,"r":0.82},{"k":3,"t":30,"r":0.83},{"k":3,"t":39.7,"r":0.83},{"k":3,"t":39.9,"r":0.86},{"k":3,"t":40,"r":0.86},{"k":3,"t":50,"r":0.86},{"k":3,"t":60,"r":0.86},{"k":3,"t":70,"r":0.86},{"k":3,"t":80,"r":0.88},{"k":3,"t":90,"r":0.88},
{"k":4,"t":-90,"r":0.78},{"k":4,"t":-80,"r":0.79},{"k":4,"t":-70,"r":0.81},{"k":4,"t":-60,"r":0.82},{"k":4,"t":-50,"r":0.83},{"k":4,"t":-40,"r":0.85},{"k":4,"t":-30,"r":0.83},{"k":4,"t":-20,"r":0.82},{"k":4,"t":-10,"r":0.81},{"k":4,"t":0,"r":0.81},{"k":4,"t":0.5,"r":0.81},{"k":4,"t":0.7,"r":0.75},{"k":4,"t":10,"r":0.75},{"k":4,"t":20,"r":0.76},{"k":4,"t":30,"r":0.78},{"k":4,"t":40,"r":0.78},{"k":4,"t":40.6,"r":0.78},{"k":4,"t":40.8,"r":0.81},{"k":4,"t":50,"r":0.81},{"k":4,"t":60,"r":0.81},{"k":4,"t":70,"r":0.81},{"k":4,"t":80,"r":0.82},{"k":4,"t":90,"r":0.82},
{"k":5,"t":-90,"r":0.73},{"k":5,"t":-80,"r":0.74},{"k":5,"t":-70,"r":0.75},{"k":5,"t":-60,"r":0.76},{"k":5,"t":-50,"r":0.78},{"k":5,"t":-40,"r":0.79},{"k":5,"t":-30,"r":0.78},{"k":5,"t":-20,"r":0.76},{"k":5,"t":-10,"r":0.75},{"k":5,"t":0,"r":0.75},{"k":5,"t":1.2,"r":0.75},{"k":5,"t":1.4,"r":0.70},{"k":5,"t":10,"r":0.70},{"k":5,"t":20,"r":0.71},{"k":5,"t":30,"r":0.72},{"k":5,"t":40,"r":0.72},{"k":5,"t":41.5,"r":0.72},{"k":5,"t":41.7,"r":0.75},{"k":5,"t":50,"r":0.75},{"k":5,"t":60,"r":0.75},{"k":5,"t":70,"r":0.75},{"k":5,"t":80,"r":0.76},{"k":5,"t":90,"r":0.76},
{"k":6,"t":-90,"r":0.68},{"k":6,"t":-80,"r":0.69},{"k":6,"t":-70,"r":0.70},{"k":6,"t":-60,"r":0.71},{"k":6,"t":-50,"r":0.72},{"k":6,"t":-40,"r":0.73},{"k":6,"t":-30,"r":0.72},{"k":6,"t":-20,"r":0.71},{"k":6,"t":-10,"r":0.70},{"k":6,"t":0,"r":0.70},{"k":6,"t":1.8,"r":0.70},{"k":6,"t":2,"r":0.65},{"k":6,"t":10,"r":0.65},{"k":6,"t":20,"r":0.66},{"k":6,"t":30,"r":0.67},{"k":6,"t":40,"r":0.67},{"k":6,"t":42.4,"r":0.67},{"k":6,"t":42.6,"r":0.70},{"k":6,"t":50,"r":0.70},{"k":6,"t":60,"r":0.70},{"k":6,"t":70,"r":0.70},{"k":6,"t":80,"r":0.71},{"k":6,"t":90,"r":0.71},
{"k":7,"t":-90,"r":0.63},{"k":7,"t":-80,"r":0.64},{"k":7,"t":-70,"r":0.65},{"k":7,"t":-60,"r":0.66},{"k":7,"t":-50,"r":0.67},{"k":7,"t":-40,"r":0.68},{"k":7,"t":-30,"r":0.67},{"k":7,"t":-20,"r":0.66},{"k":7,"t":-10,"r":0.65},{"k":7,"t":0,"r":0.65},{"k":7,"t":2.4,"r":0.65},{"k":7,"t":2.6,"r":0.61},{"k":7,"t":10,"r":0.61},{"k":7,"t":20,"r":0.61},{"k":7,"t":30,"r":0.62},{"k":7,"t":40,"r":0.62},{"k":7,"t":43.3,"r":0.62},{"k":7,"t":43.5,"r":0.65},{"k":7,"t":50,"r":0.65},{"k":7,"t":60,"r":0.65},{"k":7,"t":70,"r":0.65},{"k":7,"t":80,"r":0.66},{"k":7,"t":90,"r":0.66},
{"k":8,"t":-90,"r":0.59},{"k":8,"t":-80,"r":0.60},{"k":8,"t":-70,"r":0.61},{"k":8,"t":-60,"r":0.61},{"k":8,"t":-50,"r":0.62},{"k":8,"t":-40,"r":0.63},{"k":8,"t":-30,"r":0.62},{"k":8,"t":-20,"r":0.61},{"k":8,"t":-10,"r":0.61},{"k":8,"t":0,"r":0.61},{"k":8,"t":3,"r":0.61},{"k":8,"t":3.2,"r":0.56},{"k":8,"t":10,"r":0.56},{"k":8,"t":20,"r":0.57},{"k":8,"t":30,"r":0.58},{"k":8,"t":40,"r":0.58},{"k":8,"t":44.2,"r":0.58},{"k":8,"t":44.4,"r":0.61},{"k":8,"t":50,"r":0.61},{"k":8,"t":60,"r":0.61},{"k":8,"t":70,"r":0.61},{"k":8,"t":80,"r":0.61},{"k":8,"t":90,"r":0.61},
{"k":9,"t":-90,"r":0.55},{"k":9,"t":-80,"r":0.56},{"k":9,"t":-70,"r":0.56},{"k":9,"t":-60,"r":0.57},{"k":9,"t":-50,"r":0.58},{"k":9,"t":-40,"r":0.59},{"k":9,"t":-30,"r":0.58},{"k":9,"t":-20,"r":0.57},{"k":9,"t":-10,"r":0.56},{"k":9,"t":0,"r":0.56},{"k":9,"t":3.7,"r":0.56},{"k":9,"t":3.9,"r":0.52},{"k":9,"t":10,"r":0.52},{"k":9,"t":20,"r":0.53},{"k":9,"t":30,"r":0.54},{"k":9,"t":40,"r":0.54},{"k":9,"t":45.1,"r":0.54},{"k":9,"t":45.3,"r":0.56},{"k":9,"t":50,"r":0.56},{"k":9,"t":60,"r":0.56},{"k":9,"t":70,"r":0.56},{"k":9,"t":80,"r":0.57},{"k":9,"t":90,"r":0.57},
{"k":10,"t":-90,"r":0.51},{"k":10,"t":-80,"r":0.52},{"k":10,"t":-70,"r":0.52},{"k":10,"t":-60,"r":0.53},{"k":10,"t":-50,"r":0.54},{"k":10,"t":-40,"r":0.54},{"k":10,"t":-30,"r":0.54},{"k":10,"t":-20,"r":0.53},{"k":10,"t":-10,"r":0.52},{"k":10,"t":0,"r":0.52},{"k":10,"t":4.3,"r":0.52},{"k":10,"t":4.5,"r":0.49},{"k":10,"t":10,"r":0.49},{"k":10,"t":20,"r":0.49},{"k":10,"t":30,"r":0.50},{"k":10,"t":40,"r":0.50},{"k":10,"t":46,"r":0.50},{"k":10,"t":46.2,"r":0.52},{"k":10,"t":50,"r":0.52},{"k":10,"t":60,"r":0.52},{"k":10,"t":70,"r":0.52},{"k":10,"t":80,"r":0.53},{"k":10,"t":90,"r":0.53},
{"k":11,"t":-90,"r":0.48},{"k":11,"t":-80,"r":0.48},{"k":11,"t":-70,"r":0.49},{"k":11,"t":-60,"r":0.49},{"k":11,"t":-50,"r":0.50},{"k":11,"t":-40,"r":0.50},{"k":11,"t":-30,"r":0.50},{"k":11,"t":-20,"r":0.49},{"k":11,"t":-10,"r":0.49},{"k":11,"t":0,"r":0.49},{"k":11,"t":4.9,"r":0.49},{"k":11,"t":5.1,"r":0.45},{"k":11,"t":10,"r":0.45},{"k":11,"t":20,"r":0.46},{"k":11,"t":30,"r":0.46},{"k":11,"t":40,"r":0.46},{"k":11,"t":46.9,"r":0.46},{"k":11,"t":47.1,"r":0.49},{"k":11,"t":50,"r":0.49},{"k":11,"t":60,"r":0.49},{"k":11,"t":70,"r":0.49},{"k":11,"t":80,"r":0.49},{"k":11,"t":90,"r":0.49},
{"k":12,"t":-90,"r":0.44},{"k":12,"t":-80,"r":0.45},{"k":12,"t":-70,"r":0.45},{"k":12,"t":-60,"r":0.46},{"k":12,"t":-50,"r":0.46},{"k":12,"t":-40,"r":0.46},{"k":12,"t":-30,"r":0.46},{"k":12,"t":-20,"r":0.46},{"k":12,"t":-10,"r":0.45},{"k":12,"t":0,"r":0.45},{"k":12,"t":5.6,"r":0.45},{"k":12,"t":5.8,"r":0.42},{"k":12,"t":10,"r":0.42},{"k":12,"t":20,"r":0.42},{"k":12,"t":30,"r":0.43},{"k":12,"t":40,"r":0.43},{"k":12,"t":47.8,"r":0.43},{"k":12,"t":48,"r":0.45},{"k":12,"t":50,"r":0.45},{"k":12,"t":60,"r":0.45},{"k":12,"t":70,"r":0.45},{"k":12,"t":80,"r":0.46},{"k":12,"t":90,"r":0.46},
{"k":13,"t":-90,"r":0.41},{"k":13,"t":-80,"r":0.42},{"k":13,"t":-70,"r":0.42},{"k":13,"t":-60,"r":0.42},{"k":13,"t":-50,"r":0.43},{"k":13,"t":-40,"r":0.43},{"k":13,"t":-30,"r":0.43},{"k":13,"t":-20,"r":0.42},{"k":13,"t":-10,"r":0.42},{"k":13,"t":0,"r":0.42},{"k":13,"t":6.2,"r":0.42},{"k":13,"t":6.4,"r":0.39},{"k":13,"t":10,"r":0.39},{"k":13,"t":20,"r":0.39},{"k":13,"t":30,"r":0.40},{"k":13,"t":40,"r":0.40},{"k":13,"t":48.7,"r":0.40},{"k":13,"t":48.9,"r":0.42},{"k":13,"t":50,"r":0.42},{"k":13,"t":60,"r":0.42},{"k":13,"t":70,"r":0.42},{"k":13,"t":80,"r":0.42},{"k":13,"t":90,"r":0.42},
{"k":14,"t":-90,"r":0.39},{"k":14,"t":-80,"r":0.39},{"k":14,"t":-70,"r":0.39},{"k":14,"t":-60,"r":0.39},{"k":14,"t":-50,"r":0.40},{"k":14,"t":-40,"r":0.40},{"k":14,"t":-30,"r":0.40},{"k":14,"t":-20,"r":0.39},{"k":14,"t":-10,"r":0.39},{"k":14,"t":0,"r":0.39},{"k":14,"t":6.8,"r":0.39},{"k":14,"t":7,"r":0.37},{"k":14,"t":10,"r":0.37},{"k":14,"t":20,"r":0.37},{"k":14,"t":30,"r":0.37},{"k":14,"t":40,"r":0.37},{"k":14,"t":49.6,"r":0.37},{"k":14,"t":49.8,"r":0.39},{"k":14,"t":50,"r":0.39},{"k":14,"t":60,"r":0.39},{"k":14,"t":70,"r":0.39},{"k":14,"t":80,"r":0.39},{"k":14,"t":90,"r":0.39},
{"k":15,"t":-90,"r":0.36},{"k":15,"t":-80,"r":0.36},{"k":15,"t":-70,"r":0.37},{"k":15,"t":-60,"r":0.37},{"k":15,"t":-50,"r":0.37},{"k":15,"t":-40,"r":0.37},{"k":15,"t":-30,"r":0.37},{"k":15,"t":-20,"r":0.37},{"k":15,"t":-10,"r":0.37},{"k":15,"t":0,"r":0.37},{"k":15,"t":7.5,"r":0.37},{"k":15,"t":7.7,"r":0.34},{"k":15,"t":10,"r":0.34},{"k":15,"t":20,"r":0.34},{"k":15,"t":30,"r":0.35},{"k":15,"t":40,"r":0.35},{"k":15,"t":50,"r":0.35},{"k":15,"t":50.5,"r":0.35},{"k":15,"t":50.7,"r":0.37},{"k":15,"t":60,"r":0.37},{"k":15,"t":70,"r":0.37},{"k":15,"t":80,"r":0.37},{"k":15,"t":90,"r":0.37},
{"k":16,"t":-90,"r":0.34},{"k":16,"t":-80,"r":0.34},{"k":16,"t":-70,"r":0.34},{"k":16,"t":-60,"r":0.34},{"k":16,"t":-50,"r":0.35},{"k":16,"t":-40,"r":0.35},{"k":16,"t":-30,"r":0.35},{"k":16,"t":-20,"r":0.34},{"k":16,"t":-10,"r":0.34},{"k":16,"t":0,"r":0.34},{"k":16,"t":8.1,"r":0.34},{"k":16,"t":8.3,"r":0.32},{"k":16,"t":10,"r":0.32},{"k":16,"t":20,"r":0.32},{"k":16,"t":30,"r":0.32},{"k":16,"t":40,"r":0.32},{"k":16,"t":50,"r":0.32},{"k":16,"t":51.4,"r":0.32},{"k":16,"t":51.6,"r":0.34},{"k":16,"t":60,"r":0.34},{"k":16,"t":70,"r":0.34},{"k":16,"t":80,"r":0.34},{"k":16,"t":90,"r":0.34},
{"k":17,"t":-90,"r":0.32},{"k":17,"t":-80,"r":0.32},{"k":17,"t":-70,"r":0.32},{"k":17,"t":-60,"r":0.32},{"k":17,"t":-50,"r":0.32},{"k":17,"t":-40,"r":0.33},{"k":17,"t":-30,"r":0.32},{"k":17,"t":-20,"r":0.32},{"k":17,"t":-10,"r":0.32},{"k":17,"t":0,"r":0.32},{"k":17,"t":8.7,"r":0.32},{"k":17,"t":8.9,"r":0.31},{"k":17,"t":10,"r":0.31},{"k":17,"t":20,"r":0.31},{"k":17,"t":30,"r":0.31},{"k":17,"t":40,"r":0.31},{"k":17,"t":50,"r":0.31},{"k":17,"t":52.3,"r":0.31},{"k":17,"t":52.5,"r":0.32},{"k":17,"t":60,"r":0.32},{"k":17,"t":70,"r":0.32},{"k":17,"t":80,"r":0.32},{"k":17,"t":90,"r":0.32},
{"k":18,"t":-90,"r":0.31},{"k":18,"t":-80,"r":0.31},{"k":18,"t":-70,"r":0.31},{"k":18,"t":-60,"r":0.31},{"k":18,"t":-50,"r":0.31},{"k":18,"t":-40,"r":0.31},{"k":18,"t":-30,"r":0.31},{"k":18,"t":-20,"r":0.31},{"k":18,"t":-10,"r":0.31},{"k":18,"t":0,"r":0.31},{"k":18,"t":9.3,"r":0.31},{"k":18,"t":9.5,"r":0.29},{"k":18,"t":10,"r":0.29},{"k":18,"t":20,"r":0.29},{"k":18,"t":30,"r":0.29},{"k":18,"t":40,"r":0.29},{"k":18,"t":50,"r":0.29},{"k":18,"t":53.2,"r":0.29},{"k":18,"t":53.4,"r":0.31},{"k":18,"t":60,"r":0.31},{"k":18,"t":70,"r":0.31},{"k":18,"t":80,"r":0.31},{"k":18,"t":90,"r":0.31},
{"k":19,"t":-90,"r":0.29},{"k":19,"t":-80,"r":0.29},{"k":19,"t":-70,"r":0.29},{"k":19,"t":-60,"r":0.29},{"k":19,"t":-50,"r":0.29},{"k":19,"t":-40,"r":0.29},{"k":19,"t":-30,"r":0.29},{"k":19,"t":-20,"r":0.29},{"k":19,"t":-10,"r":0.29},{"k":19,"t":0,"r":0.29},{"k":19,"t":10,"r":0.29},{"k":19,"t":10.2,"r":0.28},{"k":19,"t":20,"r":0.28},{"k":19,"t":30,"r":0.28},{"k":19,"t":40,"r":0.28},{"k":19,"t":50,"r":0.28},{"k":19,"t":54.1,"r":0.28},{"k":19,"t":54.3,"r":0.29},{"k":19,"t":60,"r":0.29},{"k":19,"t":70,"r":0.29},{"k":19,"t":80,"r":0.29},{"k":19,"t":90,"r":0.29}]
},
"concat":[
{"width":406,"height":263,"layer":[
{"data":{"name":"rings"},"transform":[{"calculate":"0","as":"o"}],"mark":{"type":"point","shape":"M-1,0A1,1,0,0,1,1,0","filled":false,"stroke":"#dcdcdc","strokeWidth":1,"opacity":1},"encoding":{"x":{"field":"o","type":"quantitative","scale":{"domain":[-1.62,1.483],"nice":false,"zero":false},"axis":null},"y":{"field":"o","type":"quantitative","scale":{"domain":[-0.275,1.735],"nice":false,"zero":false},"axis":null},"size":{"field":"r","type":"quantitative","scale":{"type":"pow","exponent":2,"domain":[0,1.2],"range":[0,98596]},"legend":null}}},
{"data":{"name":"spokes"},"transform":[{"calculate":"0","as":"o"},{"calculate":"1.2*sin(datum.t*PI/180)","as":"sx"},{"calculate":"1.2*cos(datum.t*PI/180)","as":"sy"}],"mark":{"type":"rule","stroke":"#dcdcdc","strokeWidth":1},"encoding":{"x":{"field":"o","type":"quantitative","scale":{"domain":[-1.62,1.483],"nice":false,"zero":false},"axis":null},"y":{"field":"o","type":"quantitative","scale":{"domain":[-0.275,1.735],"nice":false,"zero":false},"axis":null},"x2":{"field":"sx"},"y2":{"field":"sy"}}},
{"data":{"name":"alab"},"transform":[{"calculate":"1.24*sin(datum.t*PI/180)+(datum.t>0?0.115:(datum.t<0?-0.141:0))","as":"cx"},{"calculate":"1.24*cos(datum.t*PI/180)+(abs(datum.t)<=60?0.076:0)","as":"cy"}],"mark":{"type":"text","fontSize":20,"color":"#262626","align":"center","baseline":"middle"},"encoding":{"x":{"field":"cx","type":"quantitative","scale":{"domain":[-1.62,1.483],"nice":false,"zero":false},"axis":null},"y":{"field":"cy","type":"quantitative","scale":{"domain":[-0.275,1.735],"nice":false,"zero":false},"axis":null},"text":{"field":"l"}}},
{"data":{"name":"rlab"},"transform":[{"calculate":"datum.r+0.053","as":"lx"},{"calculate":"-0.115","as":"ly"}],"mark":{"type":"text","fontSize":20,"color":"#262626","align":"right","baseline":"middle","angle":-48},"encoding":{"x":{"field":"lx","type":"quantitative","scale":{"domain":[-1.62,1.483],"nice":false,"zero":false},"axis":null},"y":{"field":"ly","type":"quantitative","scale":{"domain":[-0.275,1.735],"nice":false,"zero":false},"axis":null},"text":{"field":"l"}}},
{"data":{"values":[{"n":"Канал №1"}]},"transform":[{"calculate":"0","as":"tx"},{"calculate":"1.544","as":"ty"}],"mark":{"type":"text","fontSize":21,"fontWeight":"bold","color":"#000000","baseline":"middle"},"encoding":{"x":{"field":"tx","type":"quantitative","scale":{"domain":[-1.62,1.483],"nice":false,"zero":false},"axis":null},"y":{"field":"ty","type":"quantitative","scale":{"domain":[-0.275,1.735],"nice":false,"zero":false},"axis":null},"text":{"field":"n"}}},
{"data":{"name":"p1a"},"transform":[{"calculate":"datum.r*sin(datum.t*PI/180)","as":"x"},{"calculate":"datum.r*cos(datum.t*PI/180)","as":"y"}],"mark":{"type":"line","strokeWidth":1.8},"encoding":{"x":{"field":"x","type":"quantitative","scale":{"domain":[-1.62,1.483],"nice":false,"zero":false},"axis":null},"y":{"field":"y","type":"quantitative","scale":{"domain":[-0.275,1.735],"nice":false,"zero":false},"axis":null},"color":{"field":"k","type":"ordinal","scale":{"domain":[0,1,2,3,4,5,6,7,8,9,10,11,12,13,14,15,16,17,18,19],"range":["#0072BD","#D95319","#EDB120","#7E2F8E","#77AC30","#4DBEEE","#A2142F","#0072BD","#D95319","#EDB120","#7E2F8E","#77AC30","#4DBEEE","#A2142F","#0072BD","#D95319","#EDB120","#7E2F8E","#77AC30","#4DBEEE"]},"legend":null},"order":{"field":"t","type":"quantitative"}}},
{"data":{"name":"p1b"},"transform":[{"calculate":"datum.r*sin(datum.t*PI/180)","as":"x"},{"calculate":"datum.r*cos(datum.t*PI/180)","as":"y"}],"mark":{"type":"line","strokeWidth":1.8},"encoding":{"x":{"field":"x","type":"quantitative","scale":{"domain":[-1.62,1.483],"nice":false,"zero":false},"axis":null},"y":{"field":"y","type":"quantitative","scale":{"domain":[-0.275,1.735],"nice":false,"zero":false},"axis":null},"color":{"field":"k","type":"ordinal","legend":null},"order":{"field":"t","type":"quantitative"}}},
{"data":{"name":"mk"},"transform":[{"filter":"datum.p==1"},{"calculate":"datum.r*sin(datum.t*PI/180)","as":"x"},{"calculate":"datum.r*cos(datum.t*PI/180)","as":"y"}],"mark":{"type":"point","filled":false,"strokeWidth":3.5,"size":220,"opacity":1},"encoding":{"x":{"field":"x","type":"quantitative","scale":{"domain":[-1.62,1.483],"nice":false,"zero":false},"axis":null},"y":{"field":"y","type":"quantitative","scale":{"domain":[-0.275,1.735],"nice":false,"zero":false},"axis":null},"shape":{"field":"m","type":"nominal","scale":{"domain":["Синтезированное АФР","Результат калибровки по закрытому тракту"],"range":["M0,-1L0,1M-1,0L1,0M-0.71,-0.71L0.71,0.71M-0.71,0.71L0.71,-0.71","M-0.85,-0.85L0.85,0.85M-0.85,0.85L0.85,-0.85"]},"legend":{"orient":"none","legendX":458,"legendY":422,"title":null,"labelFontSize":19,"labelLimit":600,"labelColor":"#000000","strokeColor":"#a6a6a6","fillColor":"#ffffff","padding":4,"rowPadding":1,"clipHeight":20,"symbolSize":200,"symbolStrokeWidth":3.5,"labelOffset":5}},"stroke":{"field":"m","type":"nominal","scale":{"domain":["Синтезированное АФР","Результат калибровки по закрытому тракту"],"range":["#000000","#E8474B"]},"legend":{"orient":"none","legendX":458,"legendY":422,"title":null,"labelFontSize":19,"labelLimit":600,"labelColor":"#000000","strokeColor":"#a6a6a6","fillColor":"#ffffff","padding":4,"rowPadding":1,"clipHeight":20,"symbolSize":200,"symbolStrokeWidth":3.5,"labelOffset":5}}}}
]},
{"width":406,"height":263,"layer":[
{"data":{"name":"rings"},"transform":[{"calculate":"0","as":"o"}],"mark":{"type":"point","shape":"M-1,0A1,1,0,0,1,1,0","filled":false,"stroke":"#dcdcdc","strokeWidth":1,"opacity":1},"encoding":{"x":{"field":"o","type":"quantitative","scale":{"domain":[-1.62,1.483],"nice":false,"zero":false},"axis":null},"y":{"field":"o","type":"quantitative","scale":{"domain":[-0.275,1.735],"nice":false,"zero":false},"axis":null},"size":{"field":"r","type":"quantitative","scale":{"type":"pow","exponent":2,"domain":[0,1.2],"range":[0,98596]},"legend":null}}},
{"data":{"name":"spokes"},"transform":[{"calculate":"0","as":"o"},{"calculate":"1.2*sin(datum.t*PI/180)","as":"sx"},{"calculate":"1.2*cos(datum.t*PI/180)","as":"sy"}],"mark":{"type":"rule","stroke":"#dcdcdc","strokeWidth":1},"encoding":{"x":{"field":"o","type":"quantitative","scale":{"domain":[-1.62,1.483],"nice":false,"zero":false},"axis":null},"y":{"field":"o","type":"quantitative","scale":{"domain":[-0.275,1.735],"nice":false,"zero":false},"axis":null},"x2":{"field":"sx"},"y2":{"field":"sy"}}},
{"data":{"name":"alab"},"transform":[{"calculate":"1.24*sin(datum.t*PI/180)+(datum.t>0?0.115:(datum.t<0?-0.141:0))","as":"cx"},{"calculate":"1.24*cos(datum.t*PI/180)+(abs(datum.t)<=60?0.076:0)","as":"cy"}],"mark":{"type":"text","fontSize":20,"color":"#262626","align":"center","baseline":"middle"},"encoding":{"x":{"field":"cx","type":"quantitative","scale":{"domain":[-1.62,1.483],"nice":false,"zero":false},"axis":null},"y":{"field":"cy","type":"quantitative","scale":{"domain":[-0.275,1.735],"nice":false,"zero":false},"axis":null},"text":{"field":"l"}}},
{"data":{"name":"rlab"},"transform":[{"calculate":"datum.r+0.053","as":"lx"},{"calculate":"-0.115","as":"ly"}],"mark":{"type":"text","fontSize":20,"color":"#262626","align":"right","baseline":"middle","angle":-48},"encoding":{"x":{"field":"lx","type":"quantitative","scale":{"domain":[-1.62,1.483],"nice":false,"zero":false},"axis":null},"y":{"field":"ly","type":"quantitative","scale":{"domain":[-0.275,1.735],"nice":false,"zero":false},"axis":null},"text":{"field":"l"}}},
{"data":{"values":[{"n":"Канал №2"}]},"transform":[{"calculate":"0","as":"tx"},{"calculate":"1.544","as":"ty"}],"mark":{"type":"text","fontSize":21,"fontWeight":"bold","color":"#000000","baseline":"middle"},"encoding":{"x":{"field":"tx","type":"quantitative","scale":{"domain":[-1.62,1.483],"nice":false,"zero":false},"axis":null},"y":{"field":"ty","type":"quantitative","scale":{"domain":[-0.275,1.735],"nice":false,"zero":false},"axis":null},"text":{"field":"n"}}},
{"data":{"name":"p2"},"transform":[{"calculate":"datum.r*sin(datum.t*PI/180)","as":"x"},{"calculate":"datum.r*cos(datum.t*PI/180)","as":"y"}],"mark":{"type":"line","strokeWidth":1.8},"encoding":{"x":{"field":"x","type":"quantitative","scale":{"domain":[-1.62,1.483],"nice":false,"zero":false},"axis":null},"y":{"field":"y","type":"quantitative","scale":{"domain":[-0.275,1.735],"nice":false,"zero":false},"axis":null},"color":{"field":"k","type":"ordinal","legend":null},"order":{"field":"t","type":"quantitative"}}},
{"data":{"name":"mk"},"transform":[{"filter":"datum.p==2"},{"calculate":"datum.r*sin(datum.t*PI/180)","as":"x"},{"calculate":"datum.r*cos(datum.t*PI/180)","as":"y"}],"mark":{"type":"point","filled":false,"strokeWidth":3.5,"size":220,"opacity":1},"encoding":{"x":{"field":"x","type":"quantitative","scale":{"domain":[-1.62,1.483],"nice":false,"zero":false},"axis":null},"y":{"field":"y","type":"quantitative","scale":{"domain":[-0.275,1.735],"nice":false,"zero":false},"axis":null},"shape":{"field":"m","type":"nominal"},"stroke":{"field":"m","type":"nominal"}}}
]},
{"width":406,"height":263,"layer":[
{"data":{"name":"rings"},"transform":[{"calculate":"0","as":"o"}],"mark":{"type":"point","shape":"M-1,0A1,1,0,0,1,1,0","filled":false,"stroke":"#dcdcdc","strokeWidth":1,"opacity":1},"encoding":{"x":{"field":"o","type":"quantitative","scale":{"domain":[-1.62,1.483],"nice":false,"zero":false},"axis":null},"y":{"field":"o","type":"quantitative","scale":{"domain":[-0.275,1.735],"nice":false,"zero":false},"axis":null},"size":{"field":"r","type":"quantitative","scale":{"type":"pow","exponent":2,"domain":[0,1.2],"range":[0,98596]},"legend":null}}},
{"data":{"name":"spokes"},"transform":[{"calculate":"0","as":"o"},{"calculate":"1.2*sin(datum.t*PI/180)","as":"sx"},{"calculate":"1.2*cos(datum.t*PI/180)","as":"sy"}],"mark":{"type":"rule","stroke":"#dcdcdc","strokeWidth":1},"encoding":{"x":{"field":"o","type":"quantitative","scale":{"domain":[-1.62,1.483],"nice":false,"zero":false},"axis":null},"y":{"field":"o","type":"quantitative","scale":{"domain":[-0.275,1.735],"nice":false,"zero":false},"axis":null},"x2":{"field":"sx"},"y2":{"field":"sy"}}},
{"data":{"name":"alab"},"transform":[{"calculate":"1.24*sin(datum.t*PI/180)+(datum.t>0?0.115:(datum.t<0?-0.141:0))","as":"cx"},{"calculate":"1.24*cos(datum.t*PI/180)+(abs(datum.t)<=60?0.076:0)","as":"cy"}],"mark":{"type":"text","fontSize":20,"color":"#262626","align":"center","baseline":"middle"},"encoding":{"x":{"field":"cx","type":"quantitative","scale":{"domain":[-1.62,1.483],"nice":false,"zero":false},"axis":null},"y":{"field":"cy","type":"quantitative","scale":{"domain":[-0.275,1.735],"nice":false,"zero":false},"axis":null},"text":{"field":"l"}}},
{"data":{"name":"rlab"},"transform":[{"calculate":"datum.r+0.053","as":"lx"},{"calculate":"-0.115","as":"ly"}],"mark":{"type":"text","fontSize":20,"color":"#262626","align":"right","baseline":"middle","angle":-48,"clip":true},"encoding":{"x":{"field":"lx","type":"quantitative","scale":{"domain":[-1.62,1.483],"nice":false,"zero":false},"axis":null},"y":{"field":"ly","type":"quantitative","scale":{"domain":[-0.275,1.735],"nice":false,"zero":false},"axis":null},"text":{"field":"l"}}},
{"data":{"values":[{"n":"Канал №3"}]},"transform":[{"calculate":"0","as":"tx"},{"calculate":"1.544","as":"ty"}],"mark":{"type":"text","fontSize":21,"fontWeight":"bold","color":"#000000","baseline":"middle"},"encoding":{"x":{"field":"tx","type":"quantitative","scale":{"domain":[-1.62,1.483],"nice":false,"zero":false},"axis":null},"y":{"field":"ty","type":"quantitative","scale":{"domain":[-0.275,1.735],"nice":false,"zero":false},"axis":null},"text":{"field":"n"}}},
{"data":{"name":"p3"},"transform":[{"calculate":"datum.r*sin(datum.t*PI/180)","as":"x"},{"calculate":"datum.r*cos(datum.t*PI/180)","as":"y"}],"mark":{"type":"line","strokeWidth":1.8},"encoding":{"x":{"field":"x","type":"quantitative","scale":{"domain":[-1.62,1.483],"nice":false,"zero":false},"axis":null},"y":{"field":"y","type":"quantitative","scale":{"domain":[-0.275,1.735],"nice":false,"zero":false},"axis":null},"color":{"field":"k","type":"ordinal","legend":null},"order":{"field":"t","type":"quantitative"}}},
{"data":{"name":"mk"},"transform":[{"filter":"datum.p==3"},{"calculate":"datum.r*sin(datum.t*PI/180)","as":"x"},{"calculate":"datum.r*cos(datum.t*PI/180)","as":"y"}],"mark":{"type":"point","filled":false,"strokeWidth":3.5,"size":220,"opacity":1},"encoding":{"x":{"field":"x","type":"quantitative","scale":{"domain":[-1.62,1.483],"nice":false,"zero":false},"axis":null},"y":{"field":"y","type":"quantitative","scale":{"domain":[-0.275,1.735],"nice":false,"zero":false},"axis":null},"shape":{"field":"m","type":"nominal"},"stroke":{"field":"m","type":"nominal"}}}
]}
]}
